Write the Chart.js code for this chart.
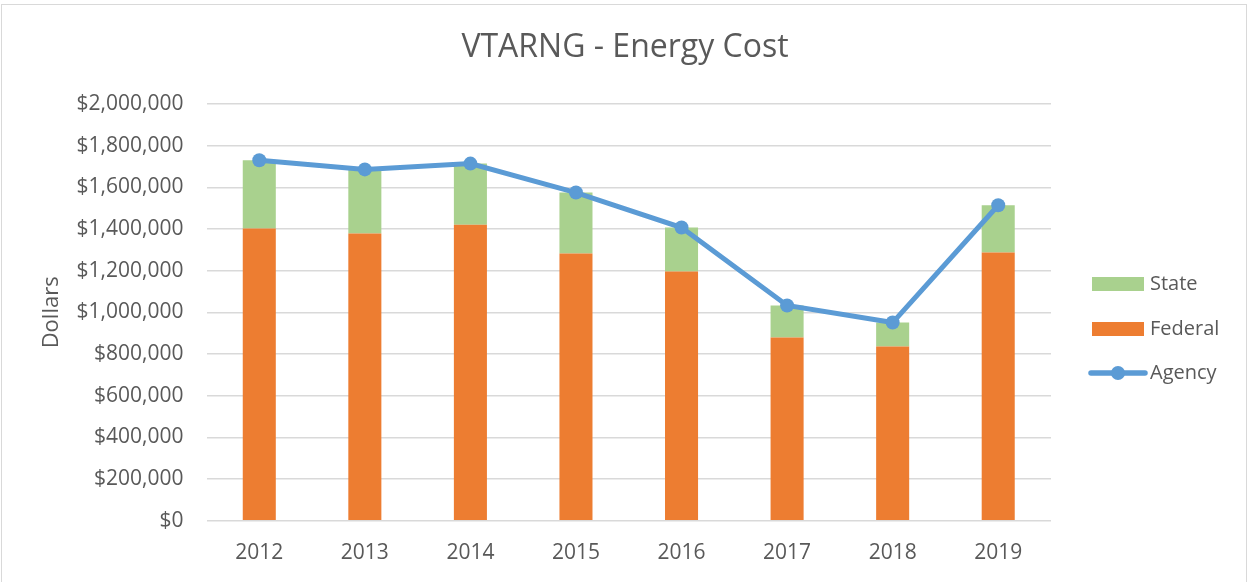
<!DOCTYPE html>
<html>
<head>
<meta charset="utf-8">
<script src="https://cdn.jsdelivr.net/npm/chart.js@4/dist/chart.umd.min.js"></script>
<style>
  html, body { margin: 0; padding: 0; background: #fff; overflow: hidden; }
  #frame { position: absolute; left: 1px; top: 4px; width: 1246px; height: 700px; border: 1px solid #d9d9d9; box-sizing: border-box; }
  #c { position: absolute; left: 0; top: 0; }
</style>
</head>
<body>
<div id="frame"></div>
<canvas id="c" width="1249" height="582"></canvas>
<script>
const years = ['2012', '2013', '2014', '2015', '2016', '2017', '2018', '2019'];
const federal = [1402000, 1378000, 1421000, 1282000, 1196000, 879000, 836000, 1287000];
const state = [328000, 308000, 293000, 293000, 211000, 154000, 115000, 227000];
const agency = [1730000, 1686000, 1714000, 1575000, 1407000, 1033000, 951000, 1514000];
const yTicks = [0, 200000, 400000, 600000, 800000, 1000000, 1200000, 1400000, 1600000, 1800000, 2000000];
const chartTitle = 'VTARNG - Energy Cost';

const TEXT = '#595959';
const GREEN = '#A9D18E';
const ORANGE = '#ED7D31';
const BLUE = '#5B9BD5';
const GRID = '#d9d9d9';
const FONT = "'Open Sans', 'Noto Sans', sans-serif";

const decorPlugin = {
  id: 'decor',
  afterDraw(chart) {
    const ctx = chart.ctx;
    ctx.save();
    // title
    ctx.font = "32px " + FONT;
    ctx.fillStyle = TEXT;
    ctx.textAlign = 'center';
    ctx.textBaseline = 'middle';
    ctx.fillText(chartTitle, 625, 48);
    // legend
    ctx.font = "20px " + FONT;
    ctx.textAlign = 'left';
    const x0 = 1092, tx = 1150;
    const byLabel = {};
    chart.data.datasets.forEach(d => byLabel[d.label] = d);
    const items = [
      { label: 'State', y: 284, type: 'box' },
      { label: 'Federal', y: 329, type: 'box' },
      { label: 'Agency', y: 373, type: 'line' }
    ];
    items.forEach(it => {
      const color = byLabel[it.label].backgroundColor;
      if (it.type === 'box') {
        ctx.fillStyle = color;
        ctx.fillRect(x0, it.y - 7, 52, 14);
      } else {
        ctx.strokeStyle = color;
        ctx.lineWidth = 5.5;
        ctx.lineCap = 'round';
        ctx.beginPath();
        ctx.moveTo(x0 - 1, it.y);
        ctx.lineTo(x0 + 53, it.y);
        ctx.stroke();
        ctx.fillStyle = color;
        ctx.beginPath();
        ctx.arc(x0 + 26, it.y, 7, 0, Math.PI * 2);
        ctx.fill();
      }
      ctx.fillStyle = TEXT;
      ctx.fillText(it.label, tx, it.y);
    });
    ctx.restore();
  }
};

new Chart(document.getElementById('c'), {
  data: {
    labels: years,
    datasets: [
      { type: 'bar', label: 'Federal', data: federal, backgroundColor: ORANGE, stack: 's', order: 1,
        categoryPercentage: 1, barPercentage: 0.313 },
      { type: 'bar', label: 'State', data: state, backgroundColor: GREEN, stack: 's', order: 2,
        categoryPercentage: 1, barPercentage: 0.313 },
      { type: 'line', label: 'Agency', data: agency, borderColor: BLUE, backgroundColor: BLUE,
        borderWidth: 5, pointRadius: 7, pointHoverRadius: 7, pointBackgroundColor: BLUE,
        pointBorderWidth: 0, tension: 0, order: 0, fill: false, stack: 'line' }
    ]
  },
  options: {
    responsive: false,
    devicePixelRatio: 1,
    animation: false,
    events: [],
    layout: { padding: { top: 104, right: 198, bottom: 0, left: 0 } },
    plugins: {
      legend: { display: false },
      tooltip: { enabled: false },
      title: { display: false }
    },
    scales: {
      x: {
        stacked: true,
        grid: { display: false, drawTicks: false },
        border: { display: false },
        ticks: { color: TEXT, font: { family: FONT, size: 21 }, padding: 20 },
        afterFit(scale) { scale.height = 61.3; }
      },
      y: {
        stacked: true,
        min: 0,
        max: 2000000,
        afterBuildTicks(scale) { scale.ticks = yTicks.map(v => ({ value: v })); },
        grid: { color: GRID, lineWidth: 1.5, drawTicks: false },
        border: { display: false },
        ticks: {
          color: TEXT,
          font: { family: FONT, size: 21 },
          padding: 23,
          callback: v => '$' + Number(v).toLocaleString('en-US')
        },
        title: {
          display: true,
          text: 'Dollars',
          color: TEXT,
          font: { family: FONT, size: 22, lineHeight: 1.2 },
          padding: { top: 38.8 }
        },
        afterFit(scale) { scale.width = 206.5; }
      }
    }
  },
  plugins: [decorPlugin]
});
</script>
</body>
</html>
